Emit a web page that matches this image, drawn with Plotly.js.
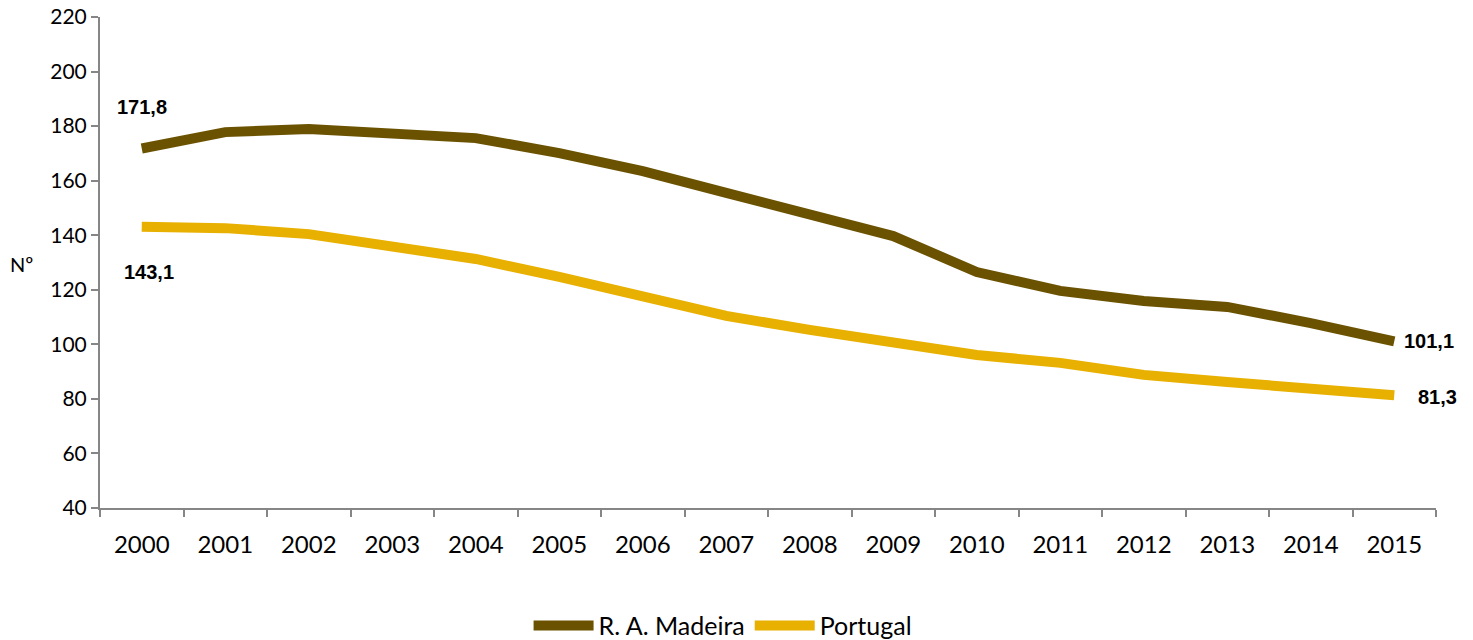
<!DOCTYPE html>
<html>
<head>
<meta charset="utf-8">
<script src="https://cdn.plot.ly/plotly-3.0.1.min.js"></script>
<style>html,body{margin:0;padding:0;background:#fff;}#chart{width:1473px;height:640px;}</style>
</head>
<body>
<div id="chart"></div>
<script>
const years = ["2000","2001","2002","2003","2004","2005","2006","2007","2008","2009","2010","2011","2012","2013","2014","2015"];
const madeira = [171.8,177.8,178.9,177.5,175.6,170.1,163.5,155.5,147.8,139.7,126.5,119.6,115.9,113.7,107.8,101.1];
const portugal = [143.1,142.6,140.4,136.0,131.3,124.7,117.4,110.4,105.3,100.5,96.1,93.2,88.8,86.2,83.6,81.3];
const seriesNames = ["R. A. Madeira","Portugal"];
const colors = ["#6B5200","#E8B000"];
const fmt = v => v.toFixed(1).replace(".", ",");
const last = years.length - 1;

const traces = [
  {x: years, y: madeira, name: seriesNames[0], type: "scatter", mode: "lines",
   line: {color: colors[0], width: 10, shape: "linear"}},
  {x: years, y: portugal, name: seriesNames[1], type: "scatter", mode: "lines",
   line: {color: colors[1], width: 10, shape: "linear"}}
];

const lblFont = {family: "Liberation Sans", size: 20, color: "#000"};
const annotations = [
  {xref: "x", yref: "y", x: 0, y: madeira[0], text: "<b>" + fmt(madeira[0]) + "</b>", showarrow: false, yshift: 41, xshift: 0, font: lblFont},
  {xref: "x", yref: "y", x: 0, y: portugal[0], text: "<b>" + fmt(portugal[0]) + "</b>", showarrow: false, yshift: -45, xshift: 7, font: lblFont},
  {xref: "x", yref: "y", x: last, y: madeira[last], text: "<b>" + fmt(madeira[last]) + "</b>", showarrow: false, xshift: 35, yshift: 0, font: lblFont},
  {xref: "x", yref: "y", x: last, y: portugal[last], text: "<b>" + fmt(portugal[last]) + "</b>", showarrow: false, xshift: 43, yshift: -2, font: lblFont},
  {xref: "paper", yref: "paper", x: -0.0585, y: 0.497, text: "Nº", showarrow: false, xanchor: "center", yanchor: "middle",
   font: {family: "Lato", size: 20, color: "#000"}}
];

const layout = {
  width: 1473, height: 640,
  margin: {l: 100, r: 37, t: 17, b: 132, autoexpand: false},
  paper_bgcolor: "#fff", plot_bgcolor: "#fff",
  showlegend: true,
  legend: {orientation: "h", x: 0.466, xanchor: "center", y: -0.24, yanchor: "middle",
           font: {family: "Lato", size: 25, color: "#000"}, itemwidth: 60, traceorder: "normal"},
  xaxis: {type: "category", tickson: "boundaries", showgrid: false, zeroline: false, automargin: false,
          showline: true, linecolor: "#868686", linewidth: 2, ticks: "outside", ticklen: 7, tickcolor: "#868686", tickwidth: 2,
          ticklabelstandoff: 14,
          tickfont: {family: "Lato", size: 24, color: "#000"}, range: [-0.5, 15.5]},
  yaxis: {range: [40, 220], dtick: 20, tick0: 40, showgrid: false, zeroline: false, automargin: false,
          showline: true, linecolor: "#868686", linewidth: 2, ticks: "outside", ticklen: 7, tickcolor: "#868686", tickwidth: 2,
          tickfont: {family: "Lato", size: 21, color: "#000"}},
  annotations: annotations
};

Plotly.newPlot("chart", traces, layout, {displayModeBar: false, staticPlot: true});
</script>
</body>
</html>
